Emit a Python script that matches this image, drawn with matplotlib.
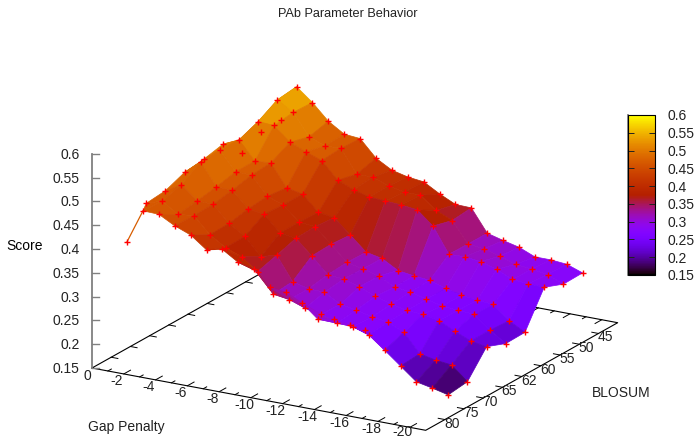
import numpy as np
import matplotlib
matplotlib.use('Agg')
import matplotlib.pyplot as plt
from matplotlib.cm import ScalarMappable
from matplotlib.collections import PolyCollection
from matplotlib.colors import ListedColormap, Normalize

plt.rcParams['font.family'] = ['Liberation Sans', 'DejaVu Sans']

# gap penalty runs -1 .. -20, one score row for each blosum matrix
gap = [-1, -2, -3, -4, -5, -6, -7, -8, -9, -10, -11, -12, -13, -14, -15, -16, -17, -18, -19, -20]
blosum_labels = ['80', '75', '70', '65', '62', '60', '55', '50', '45']

# blosum 80 stops at gap -16
score_80 = [.399, .470, .469, .451, .438, .413, .420, .399, .391, .359, .355, .339, .311, .317, .311, .307]
score_75 = [.457, .468, .446, .450, .416, .395, .382, .357, .316, .311, .299, .292, .280, .279, .268, .242, .215, .188, .181, .173]
score_70 = [.461, .480, .452, .451, .417, .396, .360, .369, .320, .311, .310, .291, .285, .277, .272, .257, .218, .211, .207, .178]
score_65 = [.477, .505, .459, .458, .425, .420, .387, .382, .351, .318, .315, .305, .291, .281, .274, .272, .265, .249, .235, .229]
score_62 = [.482, .507, .468, .467, .429, .417, .387, .384, .353, .321, .314, .305, .288, .284, .275, .267, .264, .262, .235, .213]
score_60 = [.491, .506, .468, .470, .424, .417, .385, .380, .350, .320, .313, .294, .289, .286, .275, .267, .263, .260, .232, .214]
score_55 = [.449, .522, .520, .491, .477, .465, .430, .416, .407, .405, .403, .399, .371, .318, .319, .315, .305, .290, .287, .286]
score_50 = [.471, .545, .525, .480, .467, .468, .420, .420, .408, .401, .401, .375, .360, .317, .313, .304, .293, .289, .284, .270]
score_45 = [.474, .550, .523, .490, .469, .466, .431, .412, .404, .400, .381, .365, .364, .317, .308, .300, .286, .286, .283, .271]
scores = [score_80, score_75, score_70, score_65, score_62, score_60, score_55, score_50, score_45]

gap_ticks = [0, -2, -4, -6, -8, -10, -12, -14, -16, -18, -20]
z_ticks = [0.15, 0.2, 0.25, 0.3, 0.35, 0.4, 0.45, 0.5, 0.55, 0.6]
z_labels = ['0.15', '0.2', '0.25', '0.3', '0.35', '0.4', '0.45', '0.5', '0.55', '0.6']

# view of the 3d box on the page, in pixels
ORIGIN = np.array([92.0, 368.0])
GAP_STEP = np.array([15.89, 2.967])
BLOSUM_STEP = np.array([19.2, -10.76])
Z_SCALE = 476.0
GAP_END = 21
BLOSUM_END = 10
GREY = '#808080'
TEXT = '#222222'


def project(g, b, z=0.15):
    # g is minus the gap penalty, b the position along the blosum axis
    p = ORIGIN + g * GAP_STEP + b * BLOSUM_STEP
    return p[0], p[1] - (z - 0.15) * Z_SCALE


def palette(v):
    # gnuplot default pm3d palette, rgbformulae 7,5,15
    v = np.clip(v, 0, 1)
    r = np.sqrt(v)
    g = v ** 3
    b = np.clip(np.sin(2 * np.pi * v), 0, 1)
    return np.column_stack([r, g, b])


cmap = ListedColormap(palette(np.linspace(0, 1, 256)))
norm = Normalize(0.15, 0.6)

fig = plt.figure(figsize=(6.97, 4.38), dpi=100)
ax = fig.add_axes([0, 0, 1, 1])
ax.set_xlim(0, 697)
ax.set_ylim(438, 0)
ax.axis('off')

# base of the box
front = project(GAP_END, 0)
right = project(GAP_END, BLOSUM_END)
back = project(0, BLOSUM_END)
ax.plot([ORIGIN[0], front[0], right[0], back[0], ORIGIN[0]],
        [ORIGIN[1], front[1], right[1], back[1], ORIGIN[1]], color='black', lw=0.8, zorder=1)

# ticks on the gap axis, both sides
for g in range(1, GAP_END):
    frac = 0.35 if g % 2 == 0 else 0.18
    x0, y0 = project(g, 0)
    x1, y1 = project(g, frac)
    ax.plot([x0, x1], [y0, y1], color='black', lw=0.7, zorder=1)
    x0, y0 = project(g, BLOSUM_END)
    x1, y1 = project(g, BLOSUM_END - frac)
    ax.plot([x0, x1], [y0, y1], color='black', lw=0.7, zorder=1)

for t in gap_ticks:
    x, y = project(-t, 0)
    dx = -5 if t == 0 else -7
    # the last label sits right on the bottom edge of the picture
    dy = 4.2 if t == -20 else 7.5
    ax.text(x + dx, y + dy, str(t), ha='center', va='center', fontsize=10, color=TEXT)

# ticks on the blosum axis, both sides
for i, lab in enumerate(blosum_labels):
    x0, y0 = project(GAP_END, i + 1)
    x1, y1 = project(GAP_END - 0.42, i + 1)
    ax.plot([x0, x1], [y0, y1], color='black', lw=0.7, zorder=1)
    x0, y0 = project(0, i + 1)
    x1, y1 = project(0.42, i + 1)
    ax.plot([x0, x1], [y0, y1], color='black', lw=0.7, zorder=1)
    x, y = project(GAP_END, i + 1)
    ax.text(x + 7, y + 4, lab, ha='center', va='center', fontsize=10, color=TEXT)

# z axis
x0, y0 = project(0, 0, z_ticks[0])
x1, y1 = project(0, 0, z_ticks[-1])
ax.plot([x0, x1], [y0, y1], color=GREY, lw=1.3, zorder=1)
for t, lab in zip(z_ticks, z_labels):
    x, y = project(0, 0, t)
    ax.plot([x, x + 7], [y, y], color=GREY, lw=1.0, zorder=1)
    ax.text(x - 12.5, y + 1, lab, ha='right', va='center', fontsize=10, color=TEXT)

# surface, painted from the back corner to the front
polys = []
vals = []
for b in range(len(scores) - 1, 0, -1):
    far = scores[b]
    near = scores[b - 1]
    for i in range(len(near) - 1):
        if i >= len(far) - 1:
            break
        corners = [(i, b - 1, near[i]), (i + 1, b - 1, near[i + 1]), (i + 1, b, far[i + 1]), (i, b, far[i])]
        if b == 1 and i == 0:
            # first corner of blosum 80 is left out of the surface
            corners = corners[1:]
        polys.append([project(-gap[c[0]], c[1] + 1, c[2]) for c in corners])
        vals.append(np.mean([c[2] for c in corners]))

ax.add_collection(PolyCollection(polys, array=np.array(vals), cmap=cmap, norm=norm,
                                 edgecolors='face', linewidths=0.5, zorder=2))

# the lone start of the blosum 80 line
gx = [project(-gap[i], 1, score_80[i]) for i in range(2)]
ax.plot([p[0] for p in gx], [p[1] for p in gx], color=cmap(norm(score_80[1])), lw=0.9, zorder=3)

px = []
py = []
for b, row in enumerate(scores):
    for i, s in enumerate(row):
        x, y = project(-gap[i], b + 1, s)
        px.append(x)
        py.append(y)
ax.plot(px, py, ls='none', marker='+', color='red', ms=4.8, mew=1.0, zorder=4)

ax.text(348, 14, 'PAb Parameter Behavior', ha='center', va='center', fontsize=9.2, color=TEXT)
ax.text(25, 246.5, 'Score', ha='center', va='center', fontsize=10, color='black')
ax.text(126.5, 427, 'Gap Penalty', ha='center', va='center', fontsize=10, color=TEXT)
ax.text(621.5, 393, 'BLOSUM', ha='center', va='center', fontsize=10, color=TEXT)

# colour box
cax = fig.add_axes([628 / 697, 1 - 275 / 438, 26.5 / 697, 160 / 438])
cb = fig.colorbar(ScalarMappable(norm=norm, cmap=cmap), cax=cax)
cb.set_ticks(z_ticks)
cb.set_ticklabels(z_labels)
cb.outline.set_edgecolor('black')
cb.outline.set_linewidth(0.8)
cax.tick_params(axis='y', which='both', direction='in', left=True, right=True, length=4.5,
                width=0.7, color='#222222', labelsize=10, labelcolor=TEXT, pad=9)
cax.axvline(0, color=GREY, lw=1.3, clip_on=False)

fig.savefig('out.png', dpi=100)
